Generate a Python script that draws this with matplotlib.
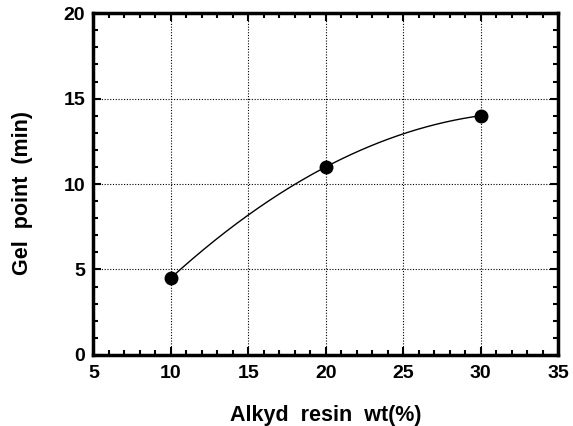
import numpy as np
import matplotlib
matplotlib.use("Agg")
import matplotlib.pyplot as plt
from matplotlib.ticker import MultipleLocator

# data
resin_wt = [10, 20, 30]
gel_point = [4.5, 11.0, 14.0]

plt.rcParams['font.family'] = ['Liberation Sans', 'DejaVu Sans']
plt.rcParams['font.weight'] = 'bold'

fig = plt.figure(figsize=(5.73, 4.26), dpi=100)
ax = fig.add_axes([0.163, 0.167, 0.811, 0.802])

# smooth curve through the three points
coef = np.polyfit(resin_wt, gel_point, 2)
xs = np.linspace(resin_wt[0], resin_wt[-1], 200)
ax.plot(xs, np.polyval(coef, xs), color='black', lw=1.0)
ax.plot(resin_wt, gel_point, 'o', color='black', ms=9)

ax.set_xlim(5, 35)
ax.set_ylim(0, 20)
ax.xaxis.set_major_locator(MultipleLocator(5))
ax.xaxis.set_minor_locator(MultipleLocator(1))
ax.yaxis.set_major_locator(MultipleLocator(5))
ax.yaxis.set_minor_locator(MultipleLocator(1))
ax.tick_params(which='both', direction='in', top=True, right=True, width=1.5)
ax.tick_params(which='major', length=6, labelsize=14)
ax.tick_params(axis='x', which='major', pad=7)
ax.tick_params(axis='y', which='major', pad=6)
ax.tick_params(which='minor', length=3.5)
for lab in ax.get_xticklabels() + ax.get_yticklabels():
    lab.set_fontweight('bold')
for s in ax.spines.values():
    s.set_linewidth(2.5)

ax.grid(True, which='major', linestyle=(0, (1, 1.5)), color='black', lw=0.8)

ax.set_xlabel('Alkyd  resin  wt(%)', fontsize=15.5, fontweight='bold', labelpad=17)
ax.set_ylabel('Gel  point  (min)', fontsize=15.5, fontweight='bold', labelpad=22)
ax.yaxis.label.set_y(0.475)

fig.savefig('out.png', dpi=100)
